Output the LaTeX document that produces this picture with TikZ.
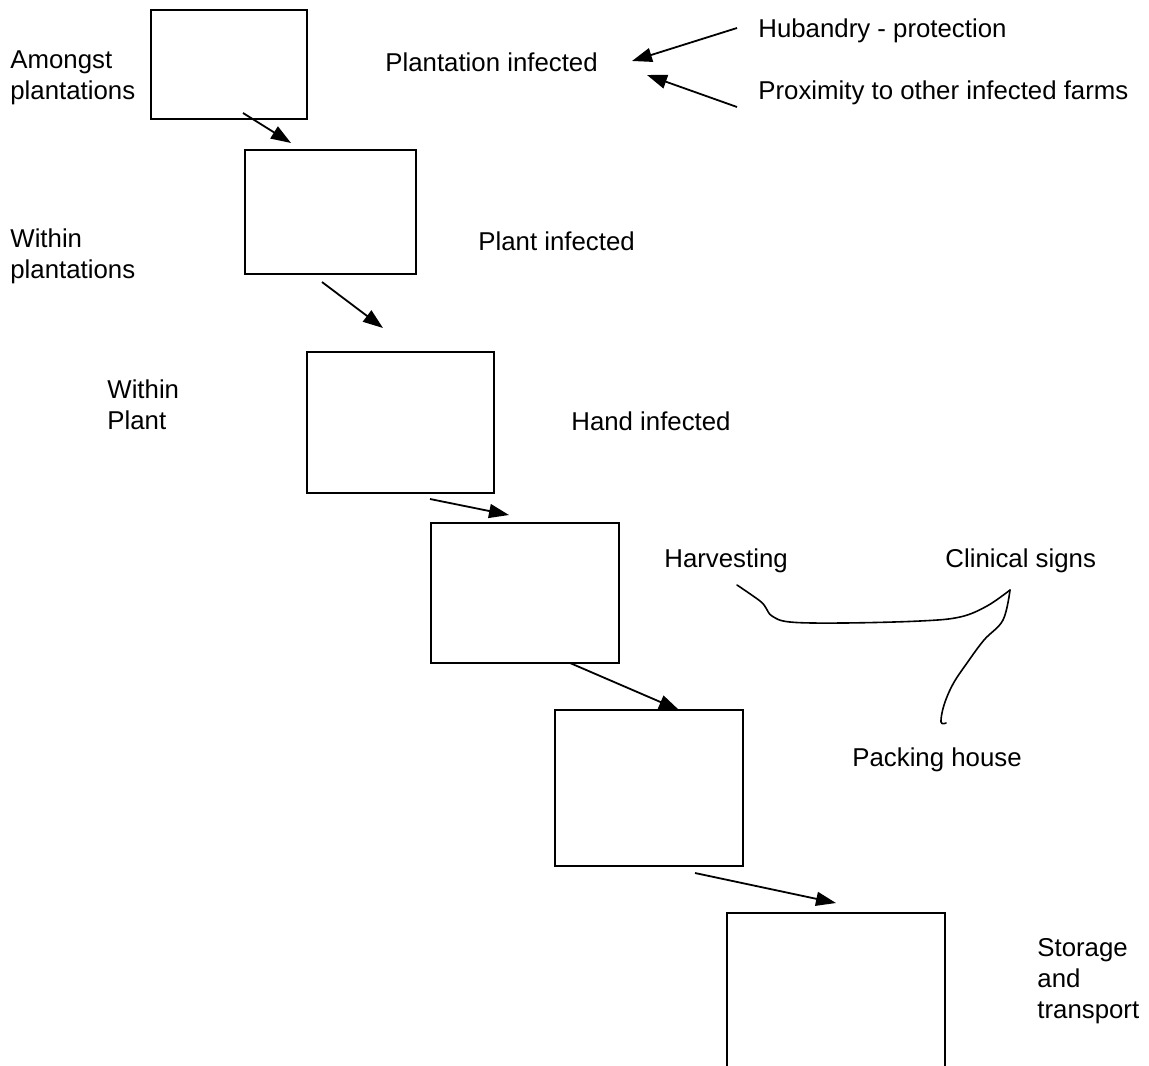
\documentclass[tikz,border=0pt]{standalone}
\usepackage{fontspec}
\setmainfont{Liberation Sans}
\usetikzlibrary{arrows.meta}
\tikzset{
  stagebox/.style={draw, line width=1pt, inner sep=0pt, anchor=north west},
  lbl/.style={inner sep=0pt, anchor=west, align=left, font=\fontsize{12.9}{15.5}\selectfont},
  flow/.style={line width=0.9pt, -{Triangle[length=10pt,width=7pt]}},
  hand/.style={line width=0.8pt, line cap=round, line join=round}
}
\begin{document}
\begin{tikzpicture}[x=0.5pt, y=-0.5pt]
    \useasboundingbox (0,0) rectangle (1149,1065);
    \clip (0,0) rectangle (1149,1065);

    % Boxes
    \node[stagebox, minimum width=78pt, minimum height=54.5pt] (b1) at (150,9) {};
    \node[stagebox, minimum width=85.5pt, minimum height=62pt] (b2) at (244,149) {};
    \node[stagebox, minimum width=93.5pt, minimum height=70.5pt] (b3) at (306,351) {};
    \node[stagebox, minimum width=94pt, minimum height=70pt] (b4) at (430,522) {};
    \node[stagebox, minimum width=94pt, minimum height=78pt] (b5) at (554,709) {};
    \node[stagebox, minimum width=109pt, minimum height=90pt] (b6) at (726,912) {};

    % Arrow ends
    \coordinate (a1s) at (243,113);  \coordinate (a1e) at (291,143);
    \coordinate (a2s) at (322,282);  \coordinate (a2e) at (383,328);
    \coordinate (a3s) at (430,499);  \coordinate (a3e) at (509,515);
    \coordinate (a4s) at (570,663);  \coordinate (a4e) at (679,710);
    \coordinate (a5s) at (695,873);  \coordinate (a5e) at (836,903);

    % Flow between boxes
    \draw[flow] (a1s) -- (a1e);
    \draw[flow] (a2s) -- (a2e);
    \draw[flow] (a3s) -- (a3e);
    \draw[flow] (a4s) -- (a4e);
    \draw[flow] (a5s) -- (a5e);

    % Left labels
    \node[lbl] (amongst) at (10,78) {Amongst\\plantations};
    \node[lbl] (withinpl) at (10,256) {Within\\plantations};
    \node[lbl] (withinp) at (107,405) {Within\\Plant};

    % Right labels
    \node[lbl] (plantinf) at (385,62) {Plantation infected};
    \node[lbl] (plinf) at (478,241) {Plant infected};
    \node[lbl] (handinf) at (571,421) {Hand infected};
    \node[lbl] (storage) at (1037,981) {Storage\\and\\transport};

    % Factors
    \node[lbl] (husb) at (758,31) {Hubandry - protection};
    \node[lbl] (prox) at (758,93) {Proximity to other infected farms};
    \draw[flow] (husb.west) ++(-21,-3) coordinate (h1) -- (632,61) coordinate (h2);
    \draw[flow] (prox.west) ++(-21,14) coordinate (p1) -- (647,75) coordinate (p2);

    % Hand-drawn links
    \node[lbl] (harv) at (664,561) {Harvesting};
    \node[lbl] (clin) at (945,561) {Clinical signs};
    \node[lbl] (pack) at (852,760) {Packing house};
    \draw[hand] plot[smooth, tension=0.6] coordinates {(737,585) (760,601) (766,608) (772,616) (790,622) (843,623) (920,621) (960,617) (987,606) (1010,590)};
    \draw[hand] plot[smooth, tension=0.6] coordinates {(1010,590) (1003,620) (984,640) (967,663) (953,684) (944,705) (941,722) (946,723)};
\end{tikzpicture}
\end{document}
